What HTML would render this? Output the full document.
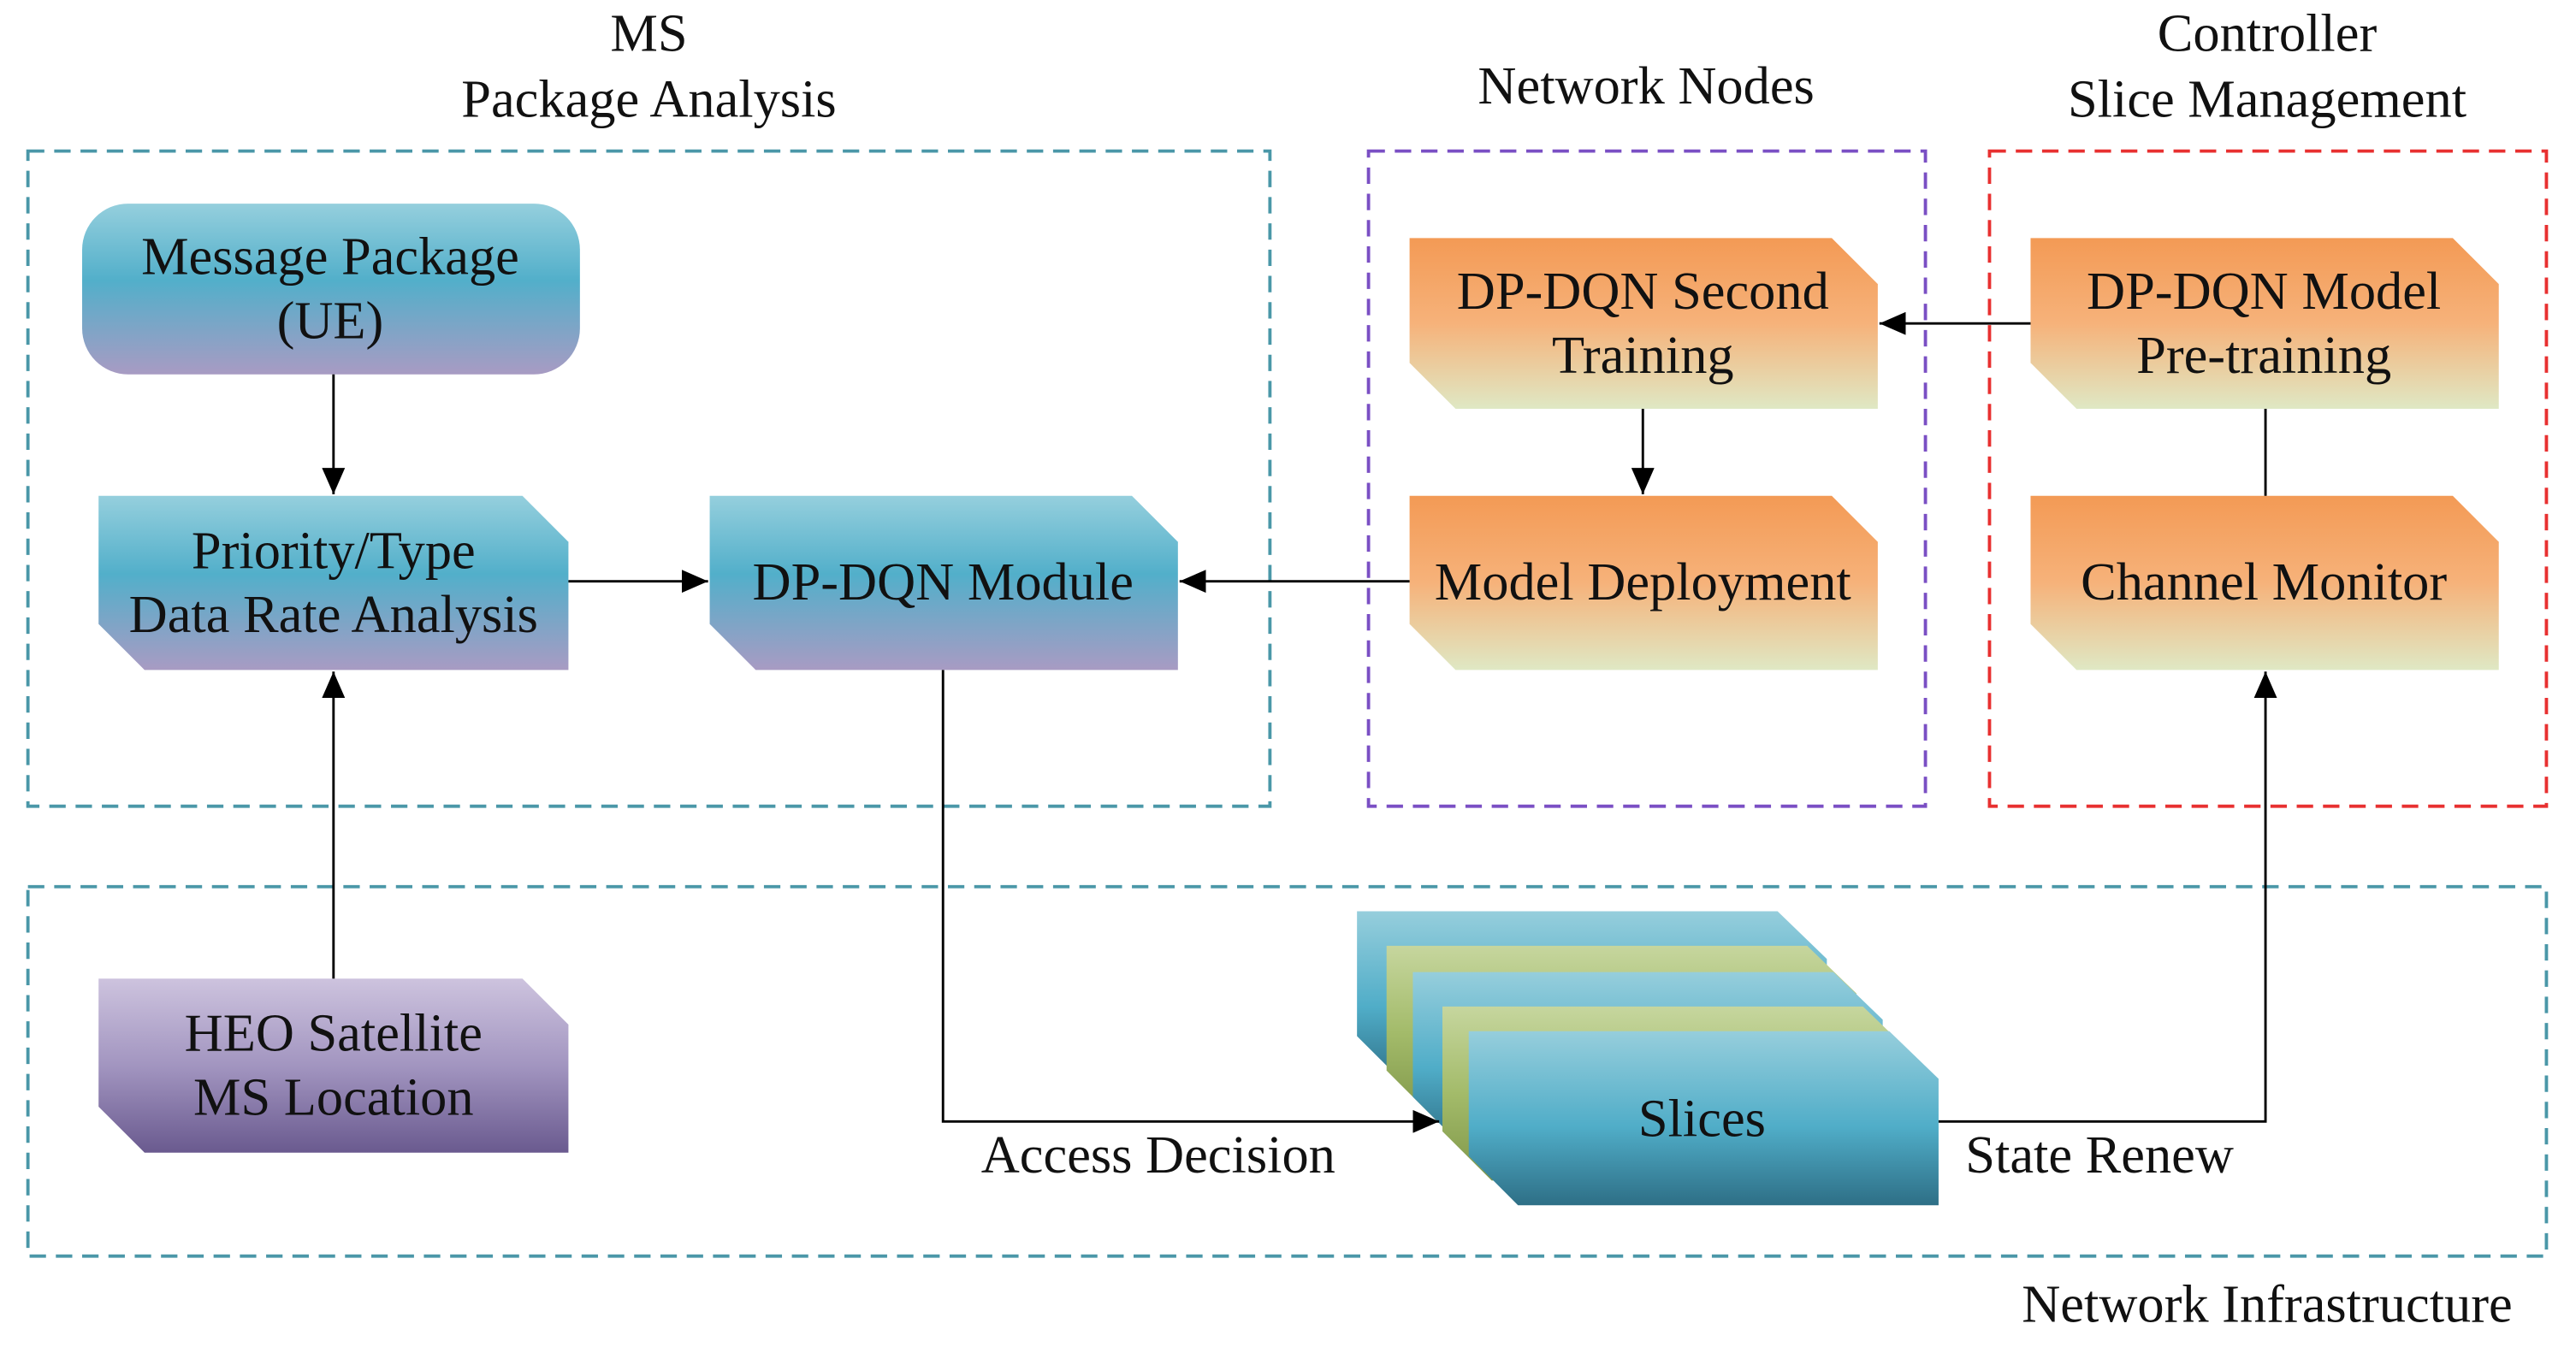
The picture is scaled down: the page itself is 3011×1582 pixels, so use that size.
<!DOCTYPE html>
<html><head><meta charset="utf-8"><style>
html,body{margin:0;padding:0;background:#fff;}
svg{display:block;}
text{font-family:"Liberation Serif",serif;fill:#111;}
</style></head><body>
<svg width="3011" height="1582" viewBox="0 0 1568 824" preserveAspectRatio="none">
<defs>
<linearGradient id="gb" x1="0" y1="0" x2="0" y2="1">
<stop offset="0" stop-color="#95cfdd"/><stop offset="0.45" stop-color="#52afca"/><stop offset="1" stop-color="#a89bc3"/></linearGradient>
<linearGradient id="go" x1="0" y1="0" x2="0" y2="1">
<stop offset="0" stop-color="#f39a55"/><stop offset="0.5" stop-color="#f6b27a"/><stop offset="1" stop-color="#dfe8c4"/></linearGradient>
<linearGradient id="gp" x1="0" y1="0" x2="0" y2="1">
<stop offset="0" stop-color="#cdc3de"/><stop offset="0.5" stop-color="#a295c0"/><stop offset="1" stop-color="#6a5a8f"/></linearGradient>
<linearGradient id="gs" x1="0" y1="0" x2="0" y2="1">
<stop offset="0" stop-color="#96cedc"/><stop offset="0.55" stop-color="#50adc8"/><stop offset="1" stop-color="#2e6f86"/></linearGradient>
<linearGradient id="gg" x1="0" y1="0" x2="0" y2="1">
<stop offset="0" stop-color="#c6d69e"/><stop offset="0.5" stop-color="#a3bb6a"/><stop offset="1" stop-color="#7f9648"/></linearGradient>
<marker id="ar2" markerWidth="16" markerHeight="14" refX="16" refY="7" orient="auto" markerUnits="userSpaceOnUse">
<path d="M0,0 L16,7 L0,14 z" fill="#000"/></marker>
</defs>

<rect x="17" y="92" width="756" height="399" fill="none" stroke="#4a97a8" stroke-width="2" stroke-dasharray="10,6"/>
<rect x="833" y="92" width="339" height="399" fill="none" stroke="#7a4fc4" stroke-width="2" stroke-dasharray="10,6"/>
<rect x="1211" y="92" width="339" height="399" fill="none" stroke="#e83030" stroke-width="2" stroke-dasharray="10,6"/>
<rect x="17" y="540" width="1533" height="225" fill="none" stroke="#4a97a8" stroke-width="2" stroke-dasharray="10,6"/>

<g font-size="32.5" text-anchor="middle">
<text x="395" y="31">MS</text>
<text x="395" y="71">Package Analysis</text>
<text x="1002" y="63">Network Nodes</text>
<text x="1380" y="31">Controller</text>
<text x="1380" y="71">Slice Management</text>
<text x="1380" y="805">Network Infrastructure</text>
</g>

<rect x="50" y="124" width="303" height="104" rx="28" fill="url(#gb)"/>
<path d="M60,302 H318 L346,330 V408 H88 L60,380 Z" fill="url(#gb)"/>
<path d="M432,302 H689 L717,330 V408 H460 L432,380 Z" fill="url(#gb)"/>
<path d="M858,145 H1115 L1143,173 V249 H886 L858,221 Z" fill="url(#go)"/>
<path d="M858,302 H1115 L1143,330 V408 H886 L858,380 Z" fill="url(#go)"/>
<path d="M1236,145 H1493 L1521,173 V249 H1264 L1236,221 Z" fill="url(#go)"/>
<path d="M1236,302 H1493 L1521,330 V408 H1264 L1236,380 Z" fill="url(#go)"/>
<path d="M60,596 H318 L346,624 V702 H88 L60,674 Z" fill="url(#gp)"/>

<path d="M826,555 H1082 L1112,584 V661 H856 L826,631 Z" fill="url(#gs)"/>
<path d="M844,576 H1100 L1130,605 V682 H874 L844,652 Z" fill="url(#gg)"/>
<path d="M860,592 H1116 L1146,621 V698 H890 L860,668 Z" fill="url(#gs)"/>
<path d="M878,613 H1134 L1164,642 V719 H908 L878,689 Z" fill="url(#gg)"/>
<path d="M894,628 H1150 L1180,657 V734 H924 L894,704 Z" fill="url(#gs)"/>

<g font-size="32.5" text-anchor="middle">
<text x="201" y="167">Message Package</text>
<text x="201" y="206">(UE)</text>
<text x="203" y="346">Priority/Type</text>
<text x="203" y="385">Data Rate Analysis</text>
<text x="574" y="365">DP-DQN Module</text>
<text x="1000" y="188">DP-DQN Second</text>
<text x="1000" y="227">Training</text>
<text x="1000" y="365">Model Deployment</text>
<text x="1378" y="188">DP-DQN Model</text>
<text x="1378" y="227">Pre-training</text>
<text x="1378" y="365">Channel Monitor</text>
<text x="203" y="640">HEO Satellite</text>
<text x="203" y="679">MS Location</text>
<text x="1036" y="692">Slices</text>
<text x="705" y="714">Access Decision</text>
<text x="1278" y="714">State Renew</text>
</g>

<g stroke="#000" stroke-width="1.5" fill="none">
<line x1="203" y1="228" x2="203" y2="301" marker-end="url(#ar2)"/>
<line x1="346" y1="354" x2="431" y2="354" marker-end="url(#ar2)"/>
<line x1="203" y1="596" x2="203" y2="409" marker-end="url(#ar2)"/>
<line x1="858" y1="354" x2="718" y2="354" marker-end="url(#ar2)"/>
<line x1="1000" y1="249" x2="1000" y2="301" marker-end="url(#ar2)"/>
<line x1="1236" y1="197" x2="1144" y2="197" marker-end="url(#ar2)"/>
<line x1="1379" y1="249" x2="1379" y2="302"/>
<polyline points="574,408 574,683 876,683" marker-end="url(#ar2)"/>
<polyline points="1180,683 1379,683 1379,409" marker-end="url(#ar2)"/>
</g>
</svg>
</body></html>
